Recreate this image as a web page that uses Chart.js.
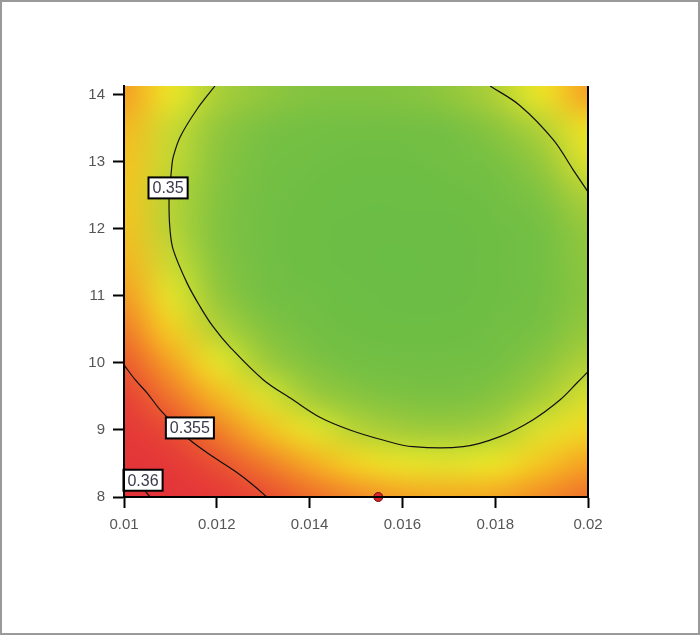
<!DOCTYPE html>
<html>
<head>
<meta charset="utf-8">
<style>
  html, body { margin: 0; padding: 0; background: #fff; }
  canvas { display: block; }
</style>
<script src="https://cdn.jsdelivr.net/npm/chart.js@4.4.1/dist/chart.umd.min.js"></script>
</head>
<body>
<canvas id="chart" width="700" height="635"></canvas>
<script>
// axis ticks
const xTicks = [0.010, 0.012, 0.014, 0.016, 0.018, 0.020];
const xTickLabels = ['0.01', '0.012', '0.014', '0.016', '0.018', '0.02'];
const yTicks = [8, 9, 10, 11, 12, 13, 14];

// response surface (rows follow gridY, columns follow gridX)
const gridX = [0.010, 0.011, 0.012, 0.013, 0.014, 0.015, 0.016, 0.017, 0.018, 0.019, 0.020];
const gridY = [8, 8.5, 9, 9.5, 10, 10.5, 11, 11.5, 12, 12.5, 13, 13.5, 14];
const response = [
    [0.3617, 0.3593, 0.3573, 0.3556, 0.3542, 0.3533, 0.3526, 0.3524, 0.3525, 0.3532, 0.3540],
    [0.3596, 0.3573, 0.3553, 0.3537, 0.3524, 0.3515, 0.3509, 0.3507, 0.3510, 0.3518, 0.3526],
    [0.3577, 0.3555, 0.3536, 0.3520, 0.3508, 0.3500, 0.3495, 0.3494, 0.3497, 0.3506, 0.3514],
    [0.3561, 0.3539, 0.3521, 0.3506, 0.3495, 0.3487, 0.3483, 0.3482, 0.3486, 0.3496, 0.3505],
    [0.3548, 0.3526, 0.3509, 0.3495, 0.3484, 0.3477, 0.3474, 0.3473, 0.3478, 0.3488, 0.3498],
    [0.3537, 0.3516, 0.3499, 0.3486, 0.3476, 0.3469, 0.3467, 0.3467, 0.3471, 0.3481, 0.3492],
    [0.3528, 0.3508, 0.3492, 0.3479, 0.3470, 0.3464, 0.3462, 0.3463, 0.3468, 0.3476, 0.3488],
    [0.3522, 0.3503, 0.3487, 0.3475, 0.3467, 0.3462, 0.3460, 0.3462, 0.3468, 0.3477, 0.3489],
    [0.3519, 0.3500, 0.3485, 0.3474, 0.3466, 0.3462, 0.3461, 0.3463, 0.3469, 0.3479, 0.3492],
    [0.3518, 0.3500, 0.3486, 0.3475, 0.3468, 0.3464, 0.3464, 0.3467, 0.3474, 0.3484, 0.3498],
    [0.3519, 0.3502, 0.3488, 0.3478, 0.3472, 0.3469, 0.3469, 0.3473, 0.3481, 0.3492, 0.3506],
    [0.3521, 0.3503, 0.3491, 0.3482, 0.3477, 0.3475, 0.3476, 0.3480, 0.3488, 0.3499, 0.3512],
    [0.3527, 0.3510, 0.3497, 0.3490, 0.3485, 0.3484, 0.3485, 0.3490, 0.3498, 0.3510, 0.3526]
];

// contour lines
const contour350 = [
    {x: 0.01196, y: 14.13}, {x: 0.01157, y: 13.78}, {x: 0.01121, y: 13.37}, {x: 0.01106, y: 13.07},
    {x: 0.01103, y: 12.93}, {x: 0.01099, y: 12.61}, {x: 0.01097, y: 12.39}, {x: 0.01099, y: 12.0},
    {x: 0.01106, y: 11.69}, {x: 0.01136, y: 11.19}, {x: 0.01164, y: 10.84}, {x: 0.01192, y: 10.54},
    {x: 0.01228, y: 10.24}, {x: 0.01300, y: 9.75}, {x: 0.01364, y: 9.45}, {x: 0.01422, y: 9.19},
    {x: 0.01487, y: 9.00}, {x: 0.01558, y: 8.85}, {x: 0.01623, y: 8.75}, {x: 0.01731, y: 8.75},
    {x: 0.01810, y: 8.90}, {x: 0.01881, y: 9.15}, {x: 0.01940, y: 9.45}, {x: 0.01976, y: 9.70},
    {x: 0.02000, y: 9.87}
];
const contour350top = [
    {x: 0.01789, y: 14.13}, {x: 0.01853, y: 13.84}, {x: 0.01925, y: 13.33},
    {x: 0.01968, y: 12.88}, {x: 0.02000, y: 12.55}
];
const contour355 = [
    {x: 0.01000, y: 9.97}, {x: 0.01024, y: 9.75}, {x: 0.01050, y: 9.55}, {x: 0.01078, y: 9.30},
    {x: 0.01112, y: 9.06}, {x: 0.01142, y: 8.85}, {x: 0.01192, y: 8.60}, {x: 0.01244, y: 8.36},
    {x: 0.01278, y: 8.18}, {x: 0.01308, y: 8.00}
];
const contour360 = [
    {x: 0.01000, y: 8.43}, {x: 0.01030, y: 8.25}, {x: 0.01045, y: 8.10}, {x: 0.01056, y: 8.00}
];
const contourLabels = [
    {text: '0.35', x: 0.01095, y: 12.61},
    {text: '0.355', x: 0.01142, y: 9.03},
    {text: '0.36', x: 0.01041, y: 8.25}
];

// design point
const optimum = [{x: 0.01548, y: 8.0}];

// colour ramp: green (low) -> yellow -> red (high)
const colorStops = [
    [0.3460, [106, 189, 69]],
    [0.3480, [118, 192, 67]],
    [0.3492, [150, 200, 60]],
    [0.3500, [184, 211, 53]],
    [0.3506, [221, 224, 44]],
    [0.3511, [240, 229, 37]],
    [0.3518, [245, 197, 33]],
    [0.3525, [245, 166, 35]],
    [0.3537, [240, 122, 42]],
    [0.3550, [234, 84, 48]],
    [0.3565, [229, 58, 56]],
    [0.3620, [226, 49, 58]]
];

function colorFor(v) {
    if (v <= colorStops[0][0]) return colorStops[0][1];
    for (let i = 1; i < colorStops.length; i++) {
        const [v1, c1] = colorStops[i];
        if (v <= v1) {
            const [v0, c0] = colorStops[i - 1];
            const t = (v - v0) / (v1 - v0);
            return c0.map((c, k) => Math.round(c + (c1[k] - c) * t));
        }
    }
    return colorStops[colorStops.length - 1][1];
}

const heatmapPlugin = {
    id: 'heatmap',
    beforeDraw(chart) {
        const {ctx, chartArea: a, scales: {x, y}} = chart;
        const cols = gridX.length, rows = gridY.length;
        const off = document.createElement('canvas');
        off.width = cols;
        off.height = rows;
        const octx = off.getContext('2d');
        const img = octx.createImageData(cols, rows);
        for (let r = 0; r < rows; r++) {
            for (let c = 0; c < cols; c++) {
                const rgb = colorFor(response[r][c]);
                const i = ((rows - 1 - r) * cols + c) * 4;
                img.data[i] = rgb[0];
                img.data[i + 1] = rgb[1];
                img.data[i + 2] = rgb[2];
                img.data[i + 3] = 255;
            }
        }
        octx.putImageData(img, 0, 0);
        const dx = x.getPixelForValue(gridX[1]) - x.getPixelForValue(gridX[0]);
        const dy = y.getPixelForValue(gridY[0]) - y.getPixelForValue(gridY[1]);
        const left = x.getPixelForValue(gridX[0]) - dx / 2;
        const top = y.getPixelForValue(gridY[rows - 1]) - dy / 2;
        ctx.save();
        ctx.beginPath();
        ctx.rect(a.left, a.top, a.right - a.left, a.bottom - a.top);
        ctx.clip();
        ctx.imageSmoothingEnabled = true;
        ctx.imageSmoothingQuality = 'high';
        ctx.drawImage(off, left, top, dx * cols, dy * rows);
        ctx.restore();
    }
};

const labelPlugin = {
    id: 'contourLabels',
    afterDatasetsDraw(chart) {
        const {ctx, scales: {x, y}} = chart;
        ctx.save();
        ctx.font = '16px Arial';
        ctx.textAlign = 'center';
        ctx.textBaseline = 'middle';
        contourLabels.forEach(l => {
            const px = x.getPixelForValue(l.x);
            const py = y.getPixelForValue(l.y);
            const w = ctx.measureText(l.text).width + 8;
            const h = 21;
            ctx.fillStyle = '#fff';
            ctx.fillRect(px - w / 2, py - h / 2, w, h);
            ctx.strokeStyle = '#000';
            ctx.lineWidth = 2;
            ctx.strokeRect(px - w / 2, py - h / 2, w, h);
            ctx.fillStyle = '#3a3a4a';
            ctx.fillText(l.text, px, py + 1);
        });
        ctx.restore();
    },
    afterDraw(chart) {
        const {ctx, chartArea: a} = chart;
        ctx.save();
        // right edge of the plot
        ctx.strokeStyle = '#000';
        ctx.lineWidth = 2;
        ctx.beginPath();
        ctx.moveTo(a.right, a.top);
        ctx.lineTo(a.right, a.bottom);
        ctx.stroke();
        // outer frame
        ctx.strokeStyle = '#9a9a9a';
        ctx.strokeRect(1, 1, chart.width - 2, chart.height - 2);
        ctx.restore();
    }
};

const lineStyle = {
    showLine: true,
    borderColor: '#111',
    borderWidth: 1.2,
    pointRadius: 0,
    tension: 0.35,
    fill: false
};

const tickFont = {family: 'Arial', size: 15};

new Chart(document.getElementById('chart'), {
    type: 'scatter',
    data: {
        datasets: [
            {
                data: optimum,
                pointRadius: 4.5,
                backgroundColor: '#d8262a',
                borderColor: '#6a0d0d',
                borderWidth: 1,
                clip: false
            },
            Object.assign({data: contour350}, lineStyle),
            Object.assign({data: contour350top}, lineStyle),
            Object.assign({data: contour355}, lineStyle),
            Object.assign({data: contour360}, lineStyle)
        ]
    },
    options: {
        responsive: false,
        animation: false,
        events: [],
        layout: {padding: {top: 86, right: 112, bottom: 0, left: 0}},
        plugins: {legend: {display: false}, tooltip: {enabled: false}},
        scales: {
            x: {
                type: 'linear',
                position: 'bottom',
                min: 0.01,
                max: 0.02,
                afterBuildTicks: s => { s.ticks = xTicks.map(v => ({value: v})); },
                afterFit: s => { s.height = 138; },
                ticks: {
                    callback: (v, i) => xTickLabels[i],
                    color: '#555',
                    font: tickFont,
                    padding: 8,
                    maxRotation: 0,
                    autoSkip: false
                },
                grid: {drawOnChartArea: false, tickLength: 11, tickColor: '#000', tickWidth: 2},
                border: {color: '#000', width: 2, z: 1}
            },
            y: {
                type: 'linear',
                min: 8,
                max: 14.13,
                afterBuildTicks: s => { s.ticks = yTicks.map(v => ({value: v})); },
                afterFit: s => { s.width = 124; },
                ticks: {
                    callback: v => String(v),
                    color: '#555',
                    font: tickFont,
                    padding: 8,
                    autoSkip: false
                },
                grid: {drawOnChartArea: false, tickLength: 11, tickColor: '#000', tickWidth: 2},
                border: {color: '#000', width: 2, z: 1}
            }
        }
    },
    plugins: [heatmapPlugin, labelPlugin]
});
</script>
</body>
</html>
